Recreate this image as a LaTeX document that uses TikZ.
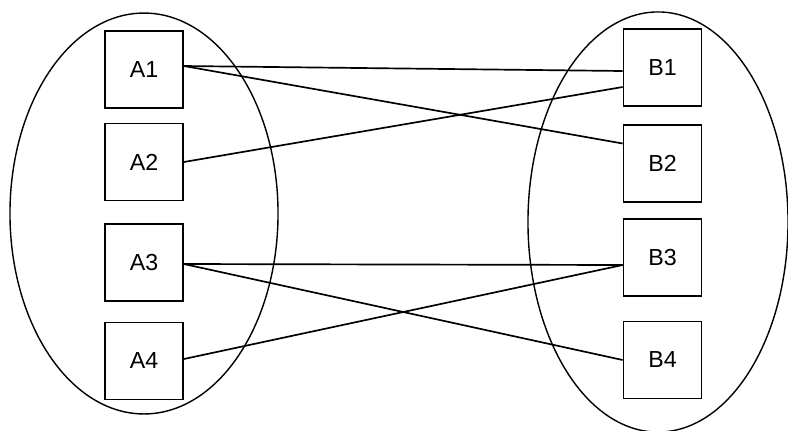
\documentclass[tikz,border=0pt]{standalone}
\usepackage{fontspec}
\setmainfont{Liberation Sans}
\usetikzlibrary{calc, shapes.geometric}
\begin{document}
\begin{tikzpicture}[
    x=0.025cm, y=-0.025cm,
    group/.style={ellipse, draw, line width=1pt, inner sep=0pt},
    item/.style={rectangle, draw, line width=1.2pt, minimum width=1.95cm, minimum height=1.92cm, inner sep=0pt, font=\fontsize{16.5}{19}\selectfont},
    link/.style={line width=1.2pt}
]
\useasboundingbox (0,0) rectangle (788,430);
\clip (0,0) rectangle (788,430);

% Sets
\node[group, minimum width=6.7cm, minimum height=10.02cm] (setA) at (144,213.5) {};
\node[group, minimum width=6.5cm, minimum height=10.5cm] (setB) at (658,222) {};

% Left items
\node[item] (A1) at (144,69.5) {A1};
\node[item] (A2) at (144,162) {A2};
\node[item] (A3) at (144,262.5) {A3};
\node[item] (A4) at (144,361) {A4};

% Right items
\node[item] (B1) at (662.5,67.5) {B1};
\node[item] (B2) at (662.5,163.5) {B2};
\node[item] (B3) at (662.5,257.5) {B3};
\node[item] (B4) at (662.5,360) {B4};

% Mappings
\draw[link] ($(A1.east)+(0,-3.5)$) -- ($(B1.west)+(0,3.5)$);
\draw[link] ($(A1.east)+(0,-3.5)$) -- ($(B2.west)+(0,-20)$);
\draw[link] (A2.east) -- ($(B1.west)+(0,19.5)$);
\draw[link] ($(A3.east)+(0,1.5)$) -- ($(B3.west)+(0,7.5)$);
\draw[link] ($(A3.east)+(0,1.5)$) -- (B4.west);
\draw[link] ($(A4.east)+(0,-2)$) -- ($(B3.west)+(0,7.5)$);

\end{tikzpicture}
\end{document}
